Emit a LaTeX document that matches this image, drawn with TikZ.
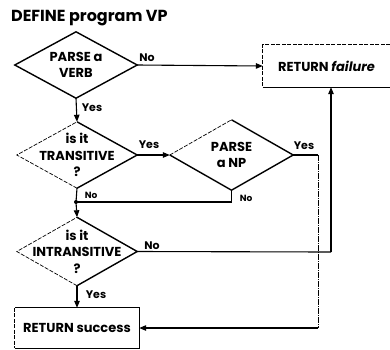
\documentclass[tikz,border=0pt]{standalone}
\usepackage{fontspec}
\setmainfont{Poppins}
\usetikzlibrary{shapes.geometric,arrows.meta}
\tikzset{
  dia/.style={diamond, draw=none, inner sep=0pt},
  solidedge/.style={line width=1.4pt, line join=miter},
  thinedge/.style={line width=0.7pt, dash pattern=on 4pt off 1.5pt},
  conn/.style={line width=1.1pt},
  thinconn/.style={line width=0.8pt, dash pattern=on 6pt off 1pt on 1pt off 1pt},
  arr/.style={-{Triangle[length=7pt,width=5.5pt]}},
  txt/.style={font=\fontsize{13}{16.5}\selectfont\bfseries, align=center},
  lab/.style={font=\fontsize{11}{12}\selectfont\bfseries, inner sep=0pt},
  smalllab/.style={font=\fontsize{9}{10}\selectfont\bfseries, inner sep=0pt},
}
\begin{document}
\begin{tikzpicture}[x=1pt,y=-1pt]
\useasboundingbox (0,0) rectangle (390,349);
\node[font=\fontsize{16}{18}\selectfont\bfseries, anchor=west, inner sep=0pt] (title) at (11,18) {DEFINE program VP};

% diamonds
\node[dia, minimum width=122pt, minimum height=66pt, label={[txt]center:PARSE a\\VERB}] (d1) at (76,65) {};
\node[dia, minimum width=120pt, minimum height=66pt, label={[txt]center:is it\\TRANSITIVE\\?}] (d2) at (77,155) {};
\node[dia, minimum width=123pt, minimum height=70pt, label={[txt]center:PARSE\\a NP}] (d3) at (231.5,155) {};
\node[dia, minimum width=120pt, minimum height=68pt, label={[txt]center:is it\\INTRANSITIVE\\?}] (d4) at (77,251.5) {};

\draw[solidedge] (d1.north) -- (d1.east) -- (d1.south) -- (d1.west) -- cycle;
\draw[solidedge] (d2.north) -- (d2.east) -- (d2.south);
\draw[thinedge] (d2.south) -- (d2.west) -- (d2.north);
\draw[solidedge] (d3.north) -- (d3.east) -- (d3.south) -- (d3.west);
\draw[thinedge] (d3.west) -- (d3.north);
\draw[solidedge] (d4.north) -- (d4.east) -- (d4.south);
\draw[thinedge] (d4.south) -- (d4.west) -- (d4.north);

% boxes
\node[txt, minimum width=127pt, minimum height=42pt, inner sep=0pt] (fail) at (326.5,66) {RETURN \textit{failure}};
\draw[thinedge] (fail.north east) -- (fail.north west) -- (fail.south west);
\draw[solidedge] (fail.south west) -- (fail.south east);

\node[txt, minimum width=124pt, minimum height=40pt, inner sep=0pt] (succ) at (77,328) {RETURN success};
\draw[thinedge] (succ.north west) -- (succ.south west);
\draw[line width=1.1pt] (succ.south west) -- (succ.south east) -- (succ.north east) -- (succ.north west);

% connectors
\coordinate (j) at (76,202);
\coordinate (r1) at (318,328);
\coordinate (r2) at (331,252);

\draw[conn, arr] (d1.east) -- (fail.west);
\draw[conn, arr] (d1.south) -- (d2.north);
\draw[conn, arr] (d2.east) -- (d3.west);
\draw[conn] (d2.south) -- (j);
\draw[conn, arr] (j) -- (d4.north);
\draw[conn] (d3.south) -- (d3.south |- j) -- (j);
\fill (j) circle (2pt);
\draw[conn] (d3.east) -- (d3.east -| r1);
\draw[thinconn] (d3.east -| r1) -- (r1);
\draw[conn, arr] (r1) -- (succ.east);
\draw[conn] (d4.east) -- (r2);
\draw[conn, arr] (r2) -- (r2 |- fail.south);
\draw[conn, arr] (d4.south) -- (d4.south |- succ.north);

% labels
\node[lab] (n1) at (147,58) {No};
\node[lab] (y1) at (92,108) {Yes};
\node[lab] (y2) at (149,145) {Yes};
\node[smalllab] (n2) at (91,195) {No};
\node[lab] (y3) at (304,146) {Yes};
\node[smalllab] (n3) at (246,198) {No};
\node[lab] (n4) at (152,246) {No};
\node[lab] (y4) at (96,295) {Yes};
\end{tikzpicture}
\end{document}
